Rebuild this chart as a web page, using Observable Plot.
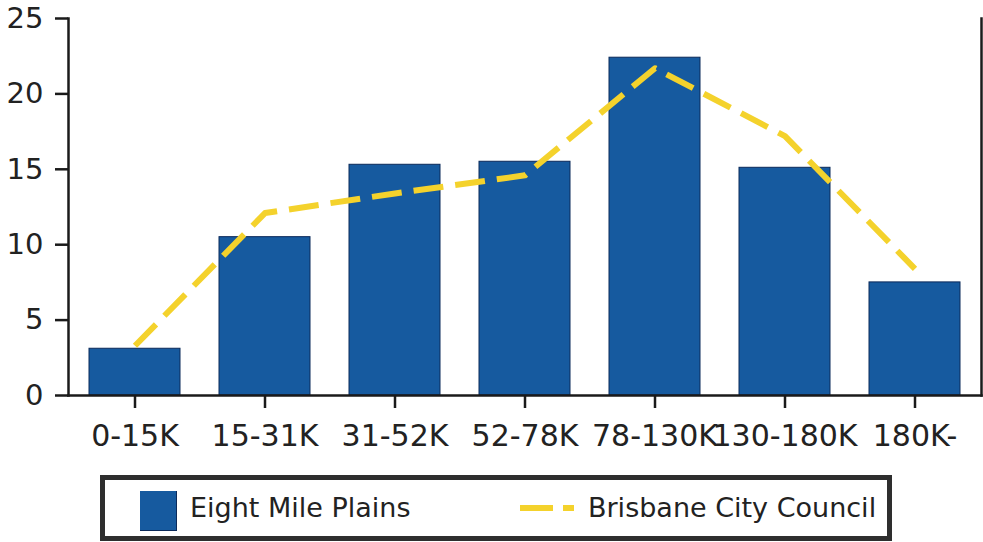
<!DOCTYPE html>
<html>
<head>
<meta charset="utf-8">
<script src="https://cdn.jsdelivr.net/npm/d3@7"></script>
<script src="https://cdn.jsdelivr.net/npm/@observablehq/plot@0.6"></script>
<style>
  html, body { margin: 0; padding: 0; background: #fff; }
  #wrap { position: relative; width: 983px; height: 542px; overflow: hidden; font-family: "DejaVu Sans", Verdana, sans-serif; }
  #legend { position: absolute; left: 100px; top: 475px; width: 782px; height: 56px; border: 5px solid #2e2e2e; box-sizing: content-box; background: #fff; }
  .sw { position: absolute; }
  .lt { position: absolute; font-size: 27px; color: #222; top: 12px; line-height: 32px; white-space: nowrap; }
</style>
</head>
<body>
<div id="wrap">
  <div id="chart"></div>
  <div id="legend">
    <div class="sw" style="left:35px; top:11px; width:36px; height:39px; background:#165a9f; border-right:1px solid #0b2a5a; border-bottom:1px solid #0b2a5a;"></div>
    <div class="lt" id="l1" style="left:85px;"></div>
    <div class="sw" style="left:415px; top:25px; width:33px; height:6px; background:#f4d22c;"></div>
    <div class="sw" style="left:458px; top:25px; width:11px; height:6px; background:#f4d22c;"></div>
    <div class="lt" id="l2" style="left:483px;"></div>
  </div>
</div>
<script>
const categories = ["0-15K", "15-31K", "31-52K", "52-78K", "78-130K", "130-180K", "180K-"];
const eightMilePlains = [3.1, 10.5, 15.3, 15.5, 22.4, 15.1, 7.5];
const brisbaneCityCouncil = [3.3, 12.1, 13.4, 14.6, 21.7, 17.2, 8.4];
const yTicks = [0, 5, 10, 15, 20, 25];
const seriesNames = ["Eight Mile Plains", "Brisbane City Council"];

const data = categories.map((c, i) => ({cat: c, emp: eightMilePlains[i], bcc: brisbaneCityCouncil[i]}));

document.getElementById("l1").textContent = seriesNames[0];
document.getElementById("l2").textContent = seriesNames[1];

const chart = Plot.plot({
  width: 983,
  height: 470,
  marginTop: 18,
  marginBottom: 75,
  marginLeft: 68,
  marginRight: 2,
  style: {fontFamily: "DejaVu Sans, Verdana, sans-serif", background: "transparent", color: "#222"},
  x: {domain: categories, paddingInner: 0.3, paddingOuter: 0.15, label: null},
  y: {domain: [0, 25], label: null},
  marks: [
    Plot.barY(data, {x: "cat", y: "emp", fill: "#165a9f", stroke: "#0b2a5a", strokeWidth: 1}),
    Plot.line(data, {x: "cat", y: "bcc", stroke: "#f4d22c", strokeWidth: 6, strokeDasharray: "30,12", strokeLinecap: "butt"}),
    Plot.frame({anchor: "left", stroke: "#1a1a1a", strokeWidth: 2.5}),
    Plot.frame({anchor: "right", stroke: "#1a1a1a", strokeWidth: 2.5}),
    Plot.frame({anchor: "bottom", stroke: "#1a1a1a", strokeWidth: 2.5}),
    Plot.axisY({ticks: yTicks, tickSize: 13, tickPadding: 12, fontSize: 29, stroke: "#1a1a1a", strokeWidth: 2.5, label: null}),
    Plot.axisX({tickSize: 13, tickPadding: 16, fontSize: 30, stroke: "#1a1a1a", strokeWidth: 2.5, label: null})
  ]
});
document.getElementById("chart").appendChild(chart);
</script>
</body>
</html>
